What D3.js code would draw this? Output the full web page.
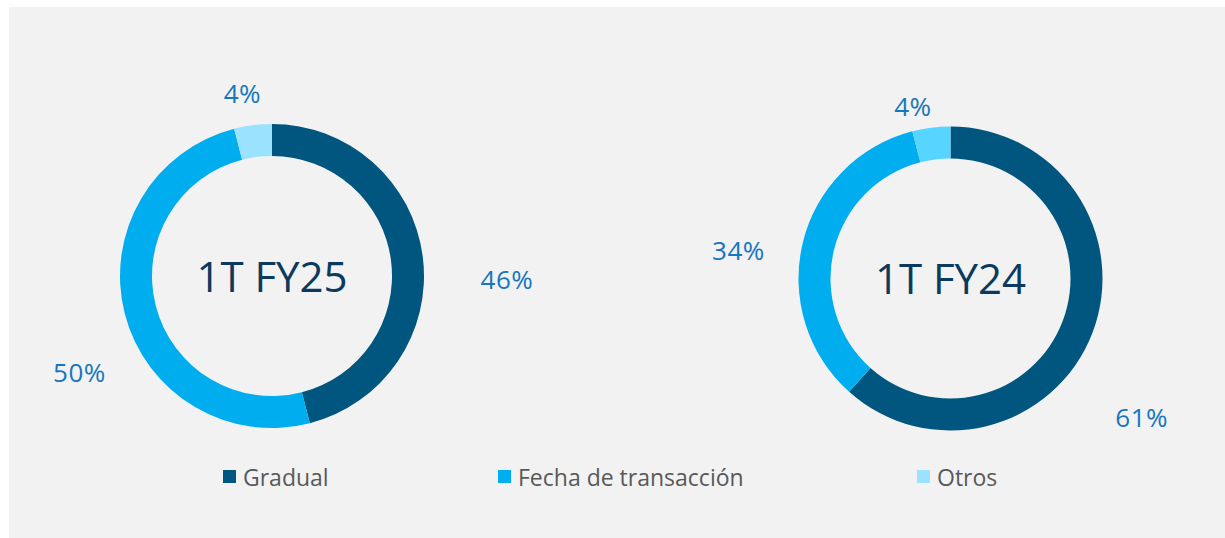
<!DOCTYPE html>
<html>
<head>
<meta charset="utf-8">
<script src="https://cdn.jsdelivr.net/npm/d3@7"></script>
<style>
  html, body { margin: 0; padding: 0; background: #ffffff; }
  svg { display: block; }
  text { font-family: "Open Sans", "Noto Sans", sans-serif; }
</style>
</head>
<body>
<svg id="chart" width="1225" height="538"></svg>
<script>
// Revenue recognition mix by quarter
const categories = ["Gradual", "Fecha de transacción", "Otros"];
const periods = ["1T FY25", "1T FY24"];
const valuesFY25 = [46, 50, 4];
const valuesFY24 = [61, 34, 4];

// Styling
const seriesColors = ["#00567F", "#00AEEF", "#9BE2FF"];
const otrosRingColor = ["#9BE2FF", "#57D4FF"];
const labelColor = "#1677BF";
const titleColor = "#0B3A5E";
const legendText = "#595959";

// Label placement relative to each slice's mid-angle: [angle nudge in degrees, radius]
const labelPlacement = [
  [[8, 235], [-12, 215], [-2, 185]],
  [[15, 236], [-6, 214], [-5, 177]]
];
const legendOffsets = [223, 498, 917];

const svg = d3.select("#chart");
const W = 1225, H = 538;

svg.append("rect")
  .attr("x", 9).attr("y", 7)
  .attr("width", W - 9).attr("height", H - 7)
  .attr("fill", "#F2F2F2");

const outerR = 152, innerR = 120;
const centers = [[272, 276], [950.5, 278.5]];
const allValues = [valuesFY25, valuesFY24];

const pie = d3.pie().sort(null).value(d => d.value);
const arc = d3.arc().innerRadius(innerR).outerRadius(outerR);

allValues.forEach((vals, ci) => {
  const data = vals.map((v, i) => ({ cat: categories[i], value: v, idx: i }));
  const arcs = pie(data);
  const g = svg.append("g")
    .attr("transform", `translate(${centers[ci][0]},${centers[ci][1]})`);

  g.selectAll("path.slice")
    .data(arcs)
    .join("path")
    .attr("class", "slice")
    .attr("d", arc)
    .attr("fill", d => d.data.idx === 2 ? otrosRingColor[ci] : seriesColors[d.data.idx]);

  g.append("text")
    .attr("text-anchor", "middle")
    .attr("dominant-baseline", "central")
    .attr("y", -1)
    .attr("font-size", 42)
    .attr("fill", titleColor)
    .text(periods[ci]);

  g.selectAll("text.pct")
    .data(arcs)
    .join("text")
    .attr("class", "pct")
    .attr("text-anchor", "middle")
    .attr("dominant-baseline", "central")
    .attr("font-size", 26)
    .attr("letter-spacing", 0.5)
    .attr("fill", labelColor)
    .attr("transform", d => {
      const [nudge, r] = labelPlacement[ci][d.data.idx];
      const a = (d.startAngle + d.endAngle) / 2 + nudge * Math.PI / 180;
      return `translate(${r * Math.sin(a)},${-r * Math.cos(a)})`;
    })
    .text(d => d.data.value + "%");
});

// Legend
const item = svg.append("g").selectAll("g")
  .data(categories)
  .join("g")
  .attr("transform", (d, i) => `translate(${legendOffsets[i]},477)`);
item.append("rect")
  .attr("x", 0).attr("y", -7)
  .attr("width", 13).attr("height", 13)
  .attr("fill", (d, i) => seriesColors[i]);
item.append("text")
  .attr("x", 20)
  .attr("dominant-baseline", "central")
  .attr("font-size", 23)
  .attr("fill", legendText)
  .text(d => d);
</script>
</body>
</html>
